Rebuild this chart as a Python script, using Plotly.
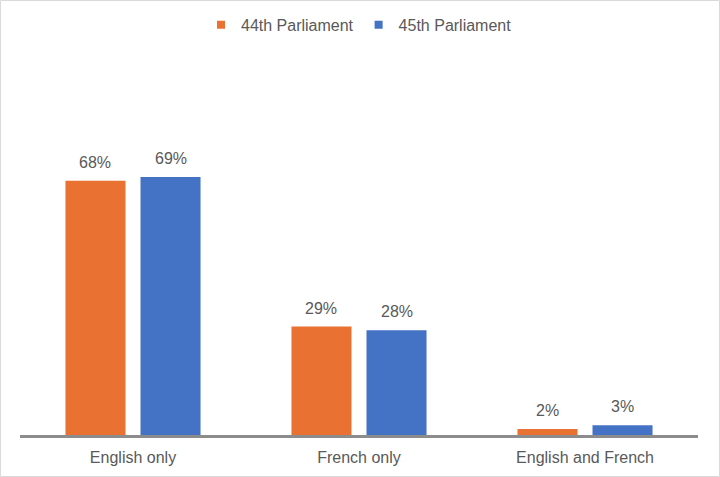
import plotly.graph_objects as go

categories = ["English only", "French only", "English and French"]
series_names = ["44th Parliament", "45th Parliament"]
p44 = [68, 29, 1.6]
p45 = [69, 28, 2.6]

colors = ["#E97132", "#4472C4"]
text_color = "#595959"
font_family = "Liberation Sans, Arial, sans-serif"

bargap = 0.336
slot = (1 - bargap) / 2

fig = go.Figure()
for k, (name, vals, col) in enumerate(zip(series_names, [p44, p45], colors)):
    fig.add_trace(go.Bar(x=categories, y=vals, name=name,
                         marker_color=col, marker_line_width=0,
                         showlegend=False, hoverinfo="x+y"))
    # small square legend marker
    fig.add_trace(go.Scatter(x=[None], y=[None], mode="markers", name=name,
                             marker=dict(symbol="square", size=8, color=col)))
    # data labels, a little above each bar
    offset = (k - 0.5) * slot
    for i, v in enumerate(vals):
        fig.add_annotation(x=i + offset, y=v, xref="x", yref="y",
                           text=f"{v:.0f}%", showarrow=False,
                           yanchor="bottom", yshift=8,
                           font=dict(size=16, color=text_color))

# outer light-grey frame around the whole chart
fig.add_shape(type="rect", xref="paper", yref="paper",
              x0=-0.0288, x1=1.0317, y0=-0.1388, y1=1.4532,
              line=dict(color="#D9D9D9", width=1), fillcolor="rgba(0,0,0,0)",
              layer="below")

fig.update_layout(width=720, height=477,
                  margin=dict(l=20, r=22, t=136, b=42),
                  paper_bgcolor="white", plot_bgcolor="white",
                  barmode="group", bargap=bargap, bargroupgap=0.2,
                  font=dict(family=font_family, size=16, color=text_color),
                  legend=dict(orientation="h", xanchor="center", x=0.5,
                              yref="container", yanchor="middle", y=0.948,
                              font=dict(size=16, color=text_color),
                              itemwidth=30, traceorder="normal"),
                  xaxis=dict(showline=True, linecolor="#8C8C8C", linewidth=2.5,
                             ticks="", ticklabelstandoff=6,
                             tickfont=dict(size=16, color=text_color),
                             showgrid=False, fixedrange=True),
                  yaxis=dict(range=[0, 80], visible=False, showgrid=False,
                             fixedrange=True))

fig.write_html("out.html", config={"displayModeBar": False},
               post_script="document.body.style.margin='0';")
